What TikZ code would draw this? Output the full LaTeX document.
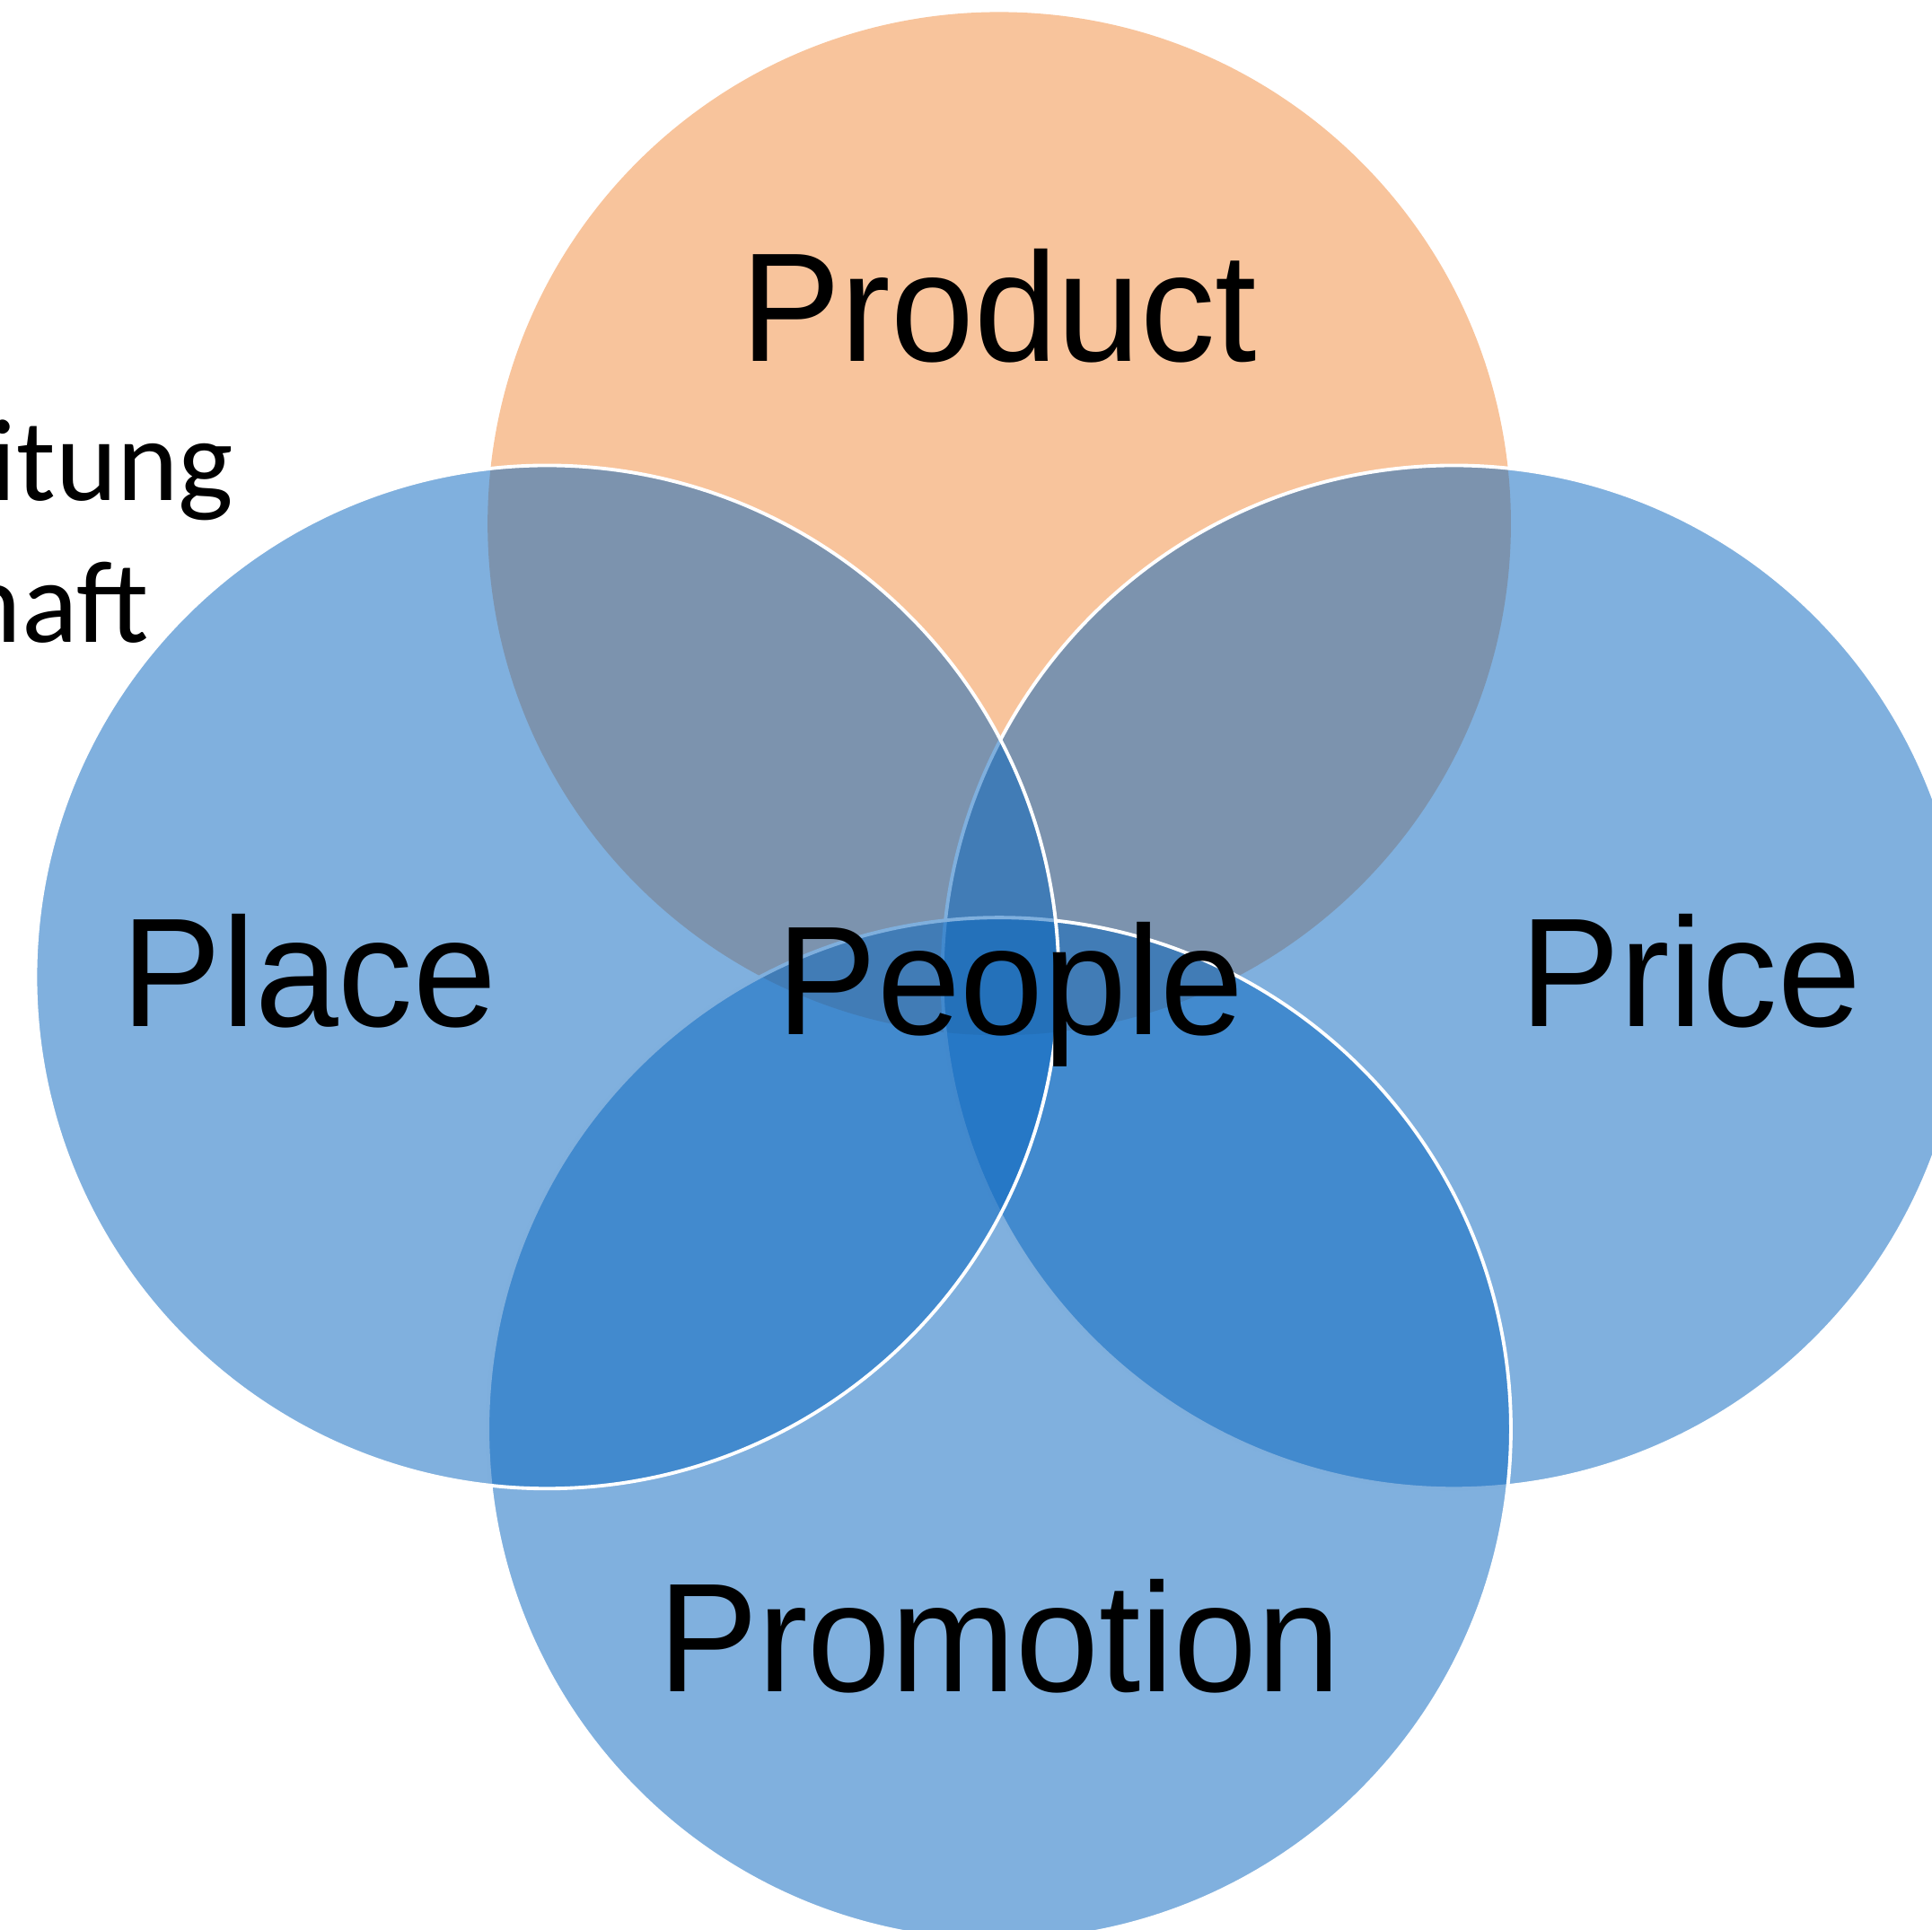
\documentclass[tikz,border=0pt]{standalone}
\usepackage{fontspec}
\setmainfont{Liberation Sans}[FakeStretch=0.965]
\newfontfamily\carlito{Carlito}
\usepackage{xcolor}
\definecolor{prodorange}{RGB}{248,196,156}
\definecolor{setblue}{RGB}{11,103,191}

\begin{document}
\begin{tikzpicture}[x=0.01cm,y=-0.01cm,
		orangeset/.style={fill=prodorange},
		blueset/.style={fill=setblue,fill opacity=0.52,draw=white,line width=0.8pt},
		setname/.style={anchor=base,inner sep=0pt,font=\fontsize{35.8}{40}\selectfont},
		sidetext/.style={anchor=base west,inner sep=0pt,font=\carlito\fontsize{27}{31}\selectfont}]
		\useasboundingbox (0,0) rectangle (1568,1566);
		% centres of the four sets
		\coordinate (cproduct) at (811,425);
		\coordinate (cplace) at (444,793);
		\coordinate (cprice) at (1180,793);
		\coordinate (cpromotion) at (811,1160);
		% text cut off at the left edge
		\node[sidetext] (side1) at (-9,406) {itung};
		\node[sidetext] (side2) at (-33,521) {haft};
		% orange first, then the blue ones over it
		\path[orangeset] (cproduct) circle[radius=4.15cm];
		\path[blueset] (cprice) circle[radius=4.15cm];
		\path[blueset] (cpromotion) circle[radius=4.15cm];
		\path[blueset] (cplace) circle[radius=4.15cm];
		\node[setname] (product) at (811,293) {Product};
		\node[setname] (place) at (251,833) {Place};
		\node[setname] (price) at (1372,833) {Price};
		\node[setname] (people) at (820,840) {People};
		\node[setname] (promotion) at (811,1373) {Promotion};
	\end{tikzpicture}
\end{document}
